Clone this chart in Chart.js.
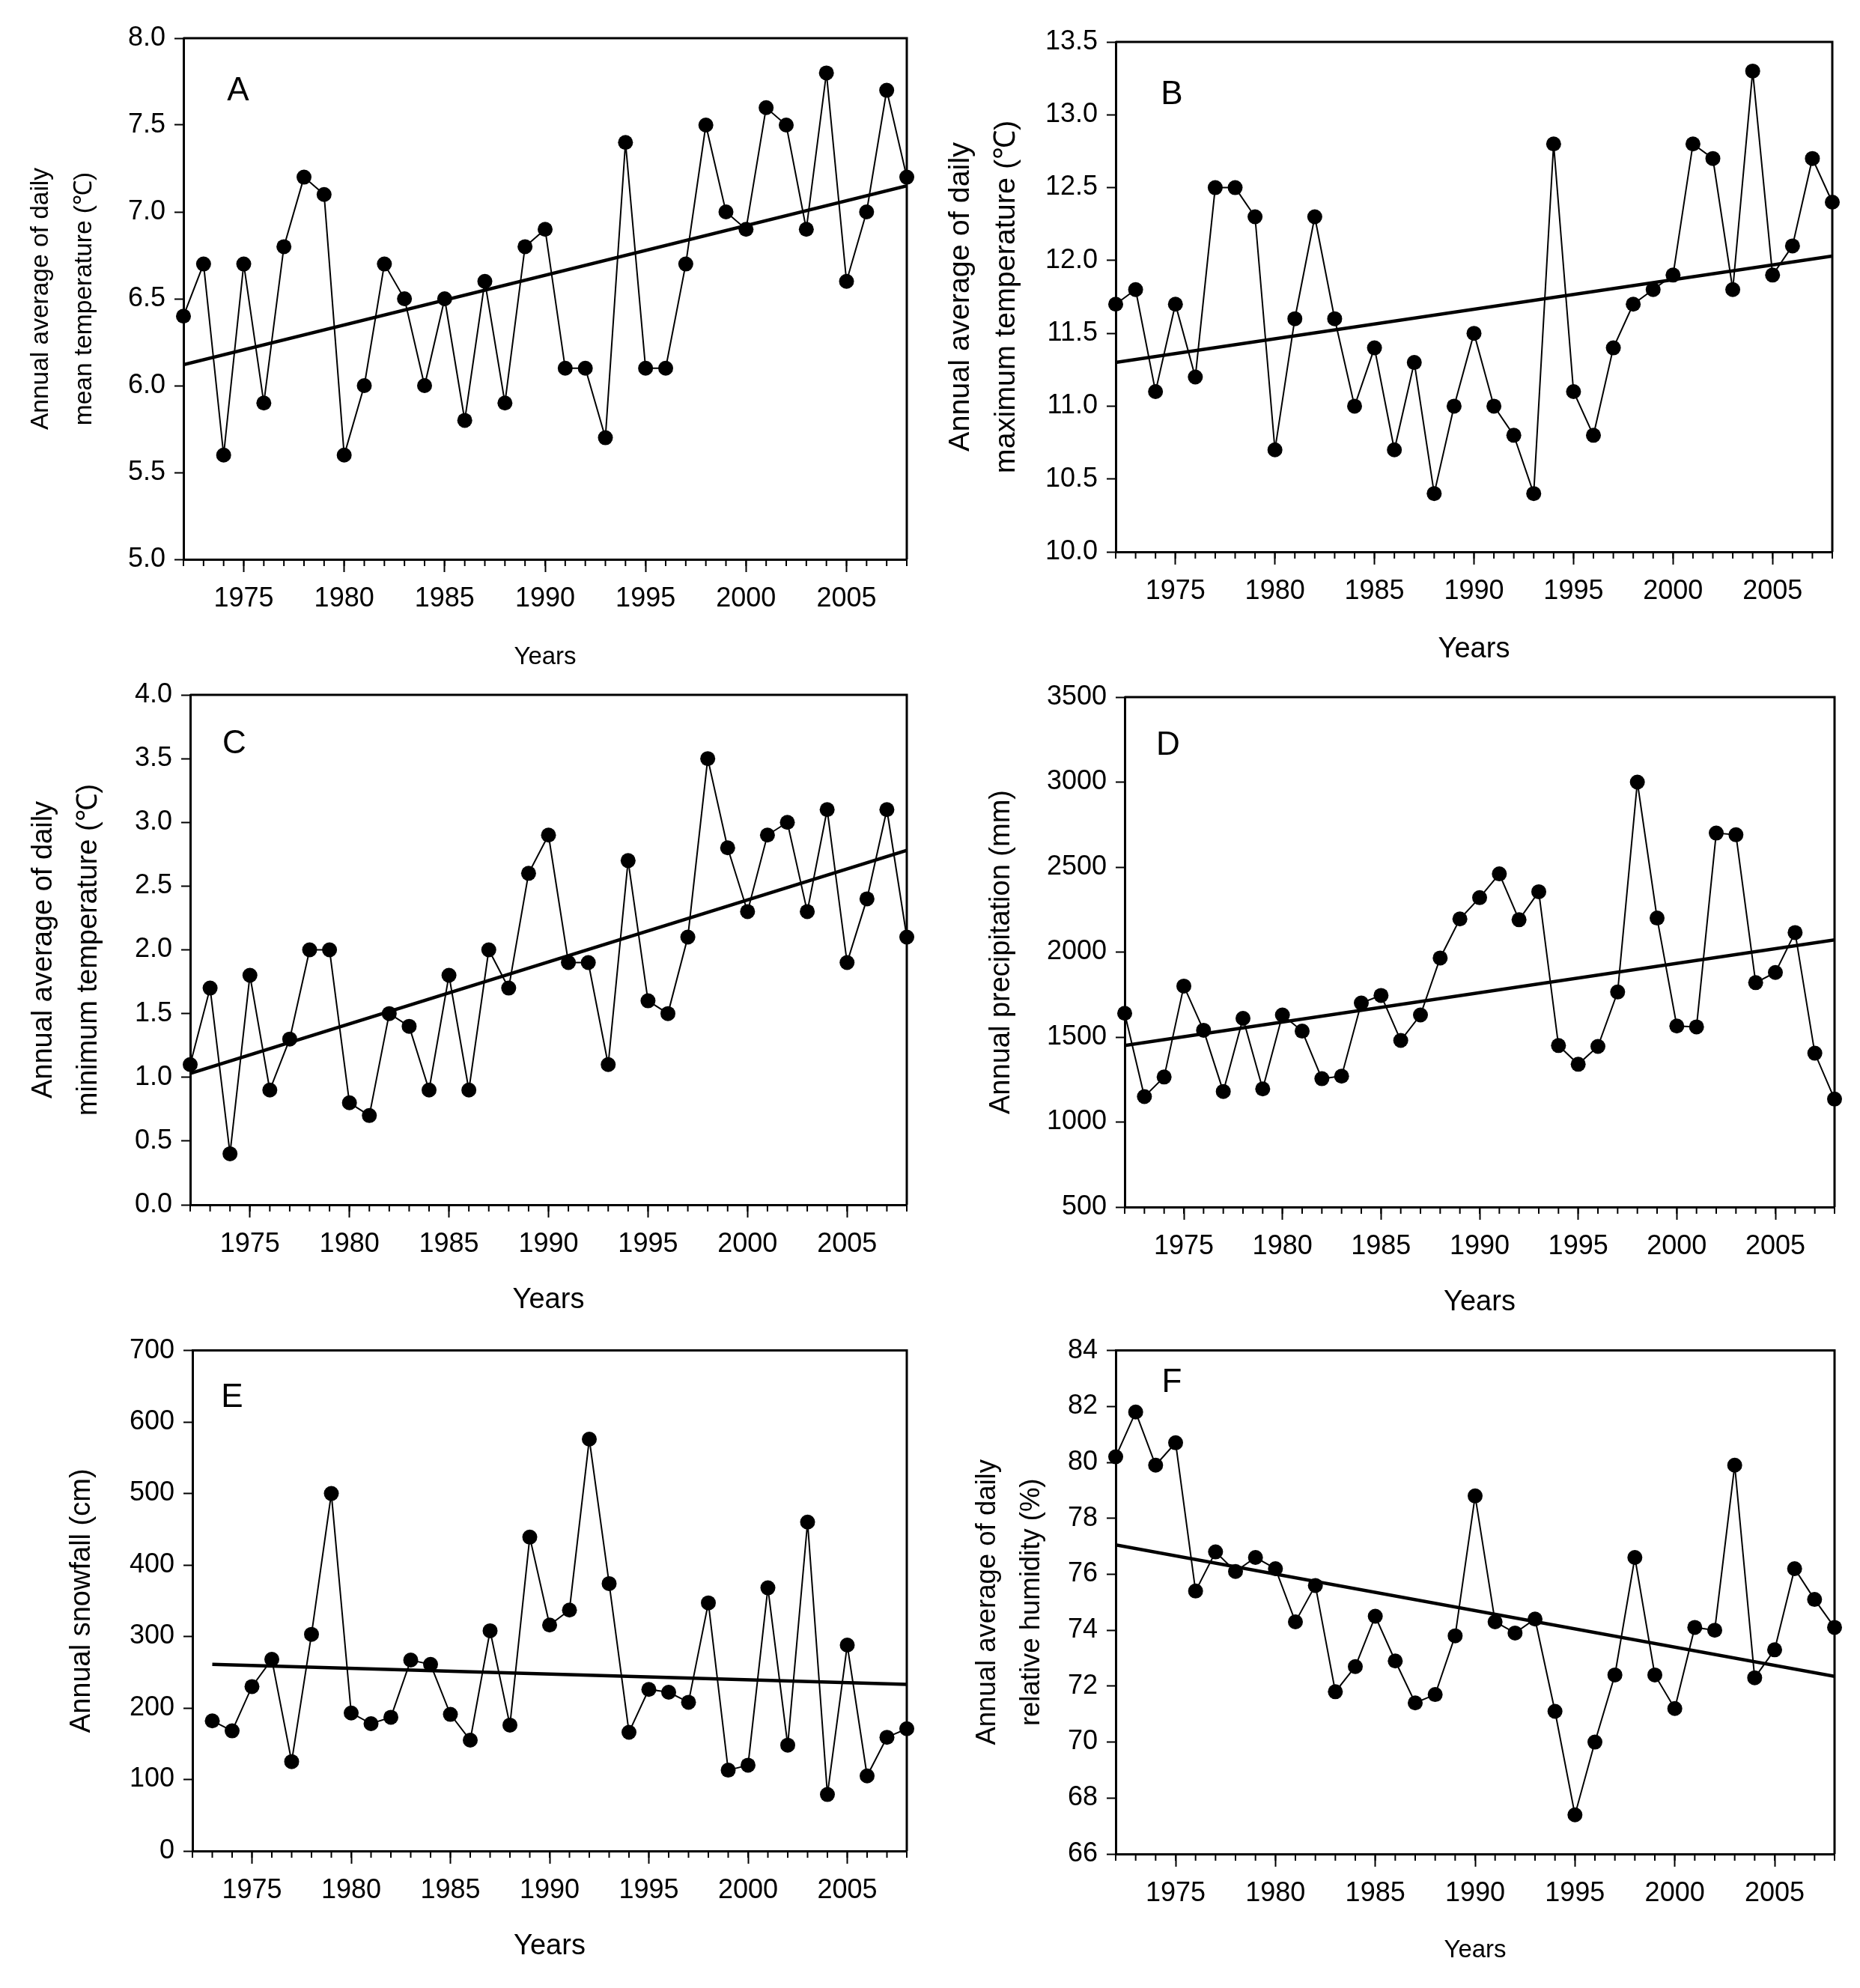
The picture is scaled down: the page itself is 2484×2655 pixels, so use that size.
<!DOCTYPE html>
<html>
<head>
<meta charset="utf-8">
<script src="https://cdn.jsdelivr.net/npm/chart.js@4.4.1/dist/chart.umd.min.js"></script>
<style>
  body { margin: 0; background: #fff; width: 2484px; height: 2655px; position: relative; overflow: hidden; }
  canvas { position: absolute; }
</style>
</head>
<body>
<canvas id="cA"></canvas>
<canvas id="cB"></canvas>
<canvas id="cC"></canvas>
<canvas id="cD"></canvas>
<canvas id="cE"></canvas>
<canvas id="cF"></canvas>
<script>
// anos 1972-2008
const anos = [1972, 1973, 1974, 1975, 1976, 1977, 1978, 1979, 1980, 1981, 1982, 1983, 1984,
  1985, 1986, 1987, 1988, 1989, 1990, 1991, 1992, 1993, 1994, 1995, 1996, 1997, 1998,
  1999, 2000, 2001, 2002, 2003, 2004, 2005, 2006, 2007, 2008];
const anosNeve = [1973, 1974, 1975, 1976, 1977, 1978, 1979, 1980, 1981, 1982, 1983, 1984,
  1985, 1986, 1987, 1988, 1989, 1990, 1991, 1992, 1993, 1994, 1995, 1996, 1997, 1998,
  1999, 2000, 2001, 2002, 2003, 2004, 2005, 2006, 2007, 2008];

const tempMedia = [6.4, 6.7, 5.6, 6.7, 5.9, 6.8, 7.2, 7.1, 5.6, 6.0, 6.7, 6.5, 6.0,
  6.5, 5.8, 6.6, 5.9, 6.8, 6.9, 6.1, 6.1, 5.7, 7.4, 6.1, 6.1, 6.7, 7.5,
  7.0, 6.9, 7.6, 7.5, 6.9, 7.8, 6.6, 7.0, 7.7, 7.2];
const tempMax = [11.7, 11.8, 11.1, 11.7, 11.2, 12.5, 12.5, 12.3, 10.7, 11.6, 12.3, 11.6, 11.0,
  11.4, 10.7, 11.3, 10.4, 11.0, 11.5, 11.0, 10.8, 10.4, 12.8, 11.1, 10.8, 11.4, 11.7,
  11.8, 11.9, 12.8, 12.7, 11.8, 13.3, 11.9, 12.1, 12.7, 12.4];
const tempMin = [1.1, 1.7, 0.4, 1.8, 0.9, 1.3, 2.0, 2.0, 0.8, 0.7, 1.5, 1.4, 0.9,
  1.8, 0.9, 2.0, 1.7, 2.6, 2.9, 1.9, 1.9, 1.1, 2.7, 1.6, 1.5, 2.1, 3.5,
  2.8, 2.3, 2.9, 3.0, 2.3, 3.1, 1.9, 2.4, 3.1, 2.1];
const precipitacao = [1640, 1150, 1265, 1800, 1540, 1180, 1610, 1195, 1630, 1535, 1255, 1270, 1700,
  1745, 1480, 1630, 1965, 2195, 2320, 2460, 2190, 2355, 1450, 1340, 1445, 1765, 3000,
  2200, 1565, 1560, 2700, 2690, 1820, 1880, 2115, 1405, 1135];
const neve = [182, 168, 230, 268, 125, 303, 500, 193, 178, 187, 267, 261,
  191, 155, 308, 176, 439, 316, 337, 576, 374, 166, 226, 222, 208, 347,
  113, 120, 368, 148, 460, 79, 288, 105, 159, 171];
const umidade = [80.2, 81.8, 79.9, 80.7, 75.4, 76.8, 76.1, 76.6, 76.2, 74.3, 75.6, 71.8, 72.7,
  74.5, 72.9, 71.4, 71.7, 73.8, 78.8, 74.3, 73.9, 74.4, 71.1, 67.4, 70.0, 72.4, 76.6,
  72.4, 71.2, 74.1, 74.0, 79.9, 72.3, 73.3, 76.2, 75.1, 74.1];

// linhas de tendência (início e fim)
const tendAnos = [1972, 2008];
const tendAnosNeve = [1973, 2008];
const tendMedia = [6.12, 7.15];
const tendMax = [11.30, 12.03];
const tendMin = [1.03, 2.78];
const tendPrecip = [1450, 2072];
const tendNeve = [261, 233];
const tendUmidade = [77.05, 72.35];

const SANS = "'Liberation Sans', Arial, sans-serif";

const molduraPlugin = {
  id: "moldura",
  beforeDatasetsDraw(chart, args, opts) {
    const { ctx, chartArea: a, scales: { x } } = chart;
    ctx.save();
    ctx.strokeStyle = "#000";
    ctx.lineWidth = 3;
    ctx.beginPath();
    ctx.moveTo(a.left, a.top);
    ctx.lineTo(a.right, a.top);
    ctx.lineTo(a.right, a.bottom);
    ctx.stroke();
    // ticks menores a cada ano
    ctx.lineWidth = 2;
    for (let ano = x.min; ano <= x.max; ano++) {
      const px = x.getPixelForValue(ano);
      ctx.beginPath();
      ctx.moveTo(px, a.bottom);
      ctx.lineTo(px, a.bottom + 9);
      ctx.stroke();
    }
    ctx.fillStyle = "#000";
    ctx.font = opts.fonte;
    ctx.textAlign = "center";
    ctx.textBaseline = "middle";
    ctx.fillText(opts.letra, a.left + opts.dx, a.top + opts.dy);
    ctx.restore();
  },
};

function criarPainel(p) {
  const canvas = document.getElementById(p.id);
  canvas.width = p.cw;
  canvas.height = p.ch;
  canvas.style.left = p.cx + "px";
  canvas.style.top = p.cy + "px";

  const pontos = p.anos.map((a, i) => ({ x: a, y: p.valores[i] }));
  const tendencia = p.tendAnos.map((a, i) => ({ x: a, y: p.tendValores[i] }));

  return new Chart(canvas, {
    type: "line",
    data: {
      datasets: [
        {
          data: tendencia,
          borderColor: "#000",
          borderWidth: 4.5,
          pointRadius: 0,
          tension: 0,
        },
        {
          data: pontos,
          borderColor: "#000",
          borderWidth: 2,
          pointRadius: 10,
          pointBackgroundColor: "#000",
          pointBorderWidth: 0,
          tension: 0,
          clip: false,
        },
      ],
    },
    options: {
      responsive: false,
      animation: false,
      layout: {
        padding: {
          left: 0,
          bottom: 0,
          top: p.frame.t - p.cy,
          right: p.cx + p.cw - p.frame.r,
        },
      },
      plugins: {
        legend: { display: false },
        tooltip: { enabled: false },
        moldura: { letra: p.letra, dx: p.letraPos[0], dy: p.letraPos[1], fonte: "44px " + SANS },
      },
      scales: {
        x: {
          type: "linear",
          min: 1972,
          max: 2008,
          afterFit: (s) => { s.height = p.cy + p.ch - p.frame.b; },
          border: { color: "#000", width: 3 },
          grid: { drawOnChartArea: false, tickLength: 17, tickWidth: 2, tickColor: "#000" },
          ticks: {
            stepSize: 5,
            includeBounds: false,
            autoSkip: false,
            maxRotation: 0,
            padding: 14,
            color: "#000",
            font: { family: SANS, size: 36 },
            callback: (v) => String(v),
          },
          title: {
            display: true,
            text: "Years",
            color: "#000",
            font: { family: SANS, size: p.tamTituloX, lineHeight: 1.2 },
            padding: { top: 0, bottom: 10 },
          },
        },
        y: {
          min: p.yMin,
          max: p.yMax,
          afterFit: (s) => { s.width = p.frame.l - p.cx; },
          border: { color: "#000", width: 3 },
          grid: { drawOnChartArea: false, tickLength: 12, tickWidth: 2, tickColor: "#000" },
          ticks: {
            stepSize: p.yPasso,
            padding: 12,
            color: "#000",
            font: { family: SANS, size: 36 },
            callback: (v) => v.toFixed(p.casas),
          },
          title: {
            display: true,
            text: p.tituloY,
            color: "#000",
            font: { family: SANS, size: p.tamTituloY, lineHeight: p.alturaLinhaY },
            padding: { top: p.padTituloY, bottom: 0 },
          },
        },
      },
    },
    plugins: [molduraPlugin],
  });
}

criarPainel({
  id: "cA", cx: 0, cy: 0, cw: 1242, ch: 908,
  frame: { l: 245, t: 51, r: 1211, b: 747 },
  anos: anos, valores: tempMedia, tendAnos: tendAnos, tendValores: tendMedia,
  yMin: 5, yMax: 8, yPasso: 0.5, casas: 1,
  tituloY: ["Annual average of daily", "mean temperature (\u2103)"],
  tamTituloY: 33.5, alturaLinhaY: 1.75, padTituloY: 25,
  tamTituloX: 33,
  letra: "A", letraPos: [73, 71],
});

criarPainel({
  id: "cB", cx: 1242, cy: 0, cw: 1242, ch: 900,
  frame: { l: 1490, t: 56, r: 2447, b: 737 },
  anos: anos, valores: tempMax, tendAnos: tendAnos, tendValores: tendMax,
  yMin: 10, yMax: 13.5, yPasso: 0.5, casas: 1,
  tituloY: ["Annual average of daily", "maximum temperature (\u2103)"],
  tamTituloY: 39.5, alturaLinhaY: 1.55, padTituloY: 10,
  tamTituloX: 38,
  letra: "B", letraPos: [75, 71],
});

criarPainel({
  id: "cC", cx: 0, cy: 885, cw: 1242, ch: 884,
  frame: { l: 254, t: 928, r: 1211, b: 1609 },
  anos: anos, valores: tempMin, tendAnos: tendAnos, tendValores: tendMin,
  yMin: 0, yMax: 4, yPasso: 0.5, casas: 1,
  tituloY: ["Annual average of daily", "minimum temperature (\u2103)"],
  tamTituloY: 38, alturaLinhaY: 1.58, padTituloY: 28,
  tamTituloX: 38,
  letra: "C", letraPos: [59, 66],
});

criarPainel({
  id: "cD", cx: 1242, cy: 885, cw: 1242, ch: 887,
  frame: { l: 1502, t: 931, r: 2450, b: 1612 },
  anos: anos, valores: precipitacao, tendAnos: tendAnos, tendValores: tendPrecip,
  yMin: 500, yMax: 3500, yPasso: 500, casas: 0,
  tituloY: "Annual precipitation (mm)",
  tamTituloY: 38, alturaLinhaY: 1.2, padTituloY: 73,
  tamTituloX: 38,
  letra: "D", letraPos: [58, 65],
});

criarPainel({
  id: "cE", cx: 0, cy: 1770, cw: 1242, ch: 862,
  frame: { l: 257, t: 1800, r: 1211, b: 2472 },
  anos: anosNeve, valores: neve, tendAnos: tendAnosNeve, tendValores: tendNeve,
  yMin: 0, yMax: 700, yPasso: 100, casas: 0,
  tituloY: "Annual snowfall (cm)",
  tamTituloY: 38, alturaLinhaY: 1.2, padTituloY: 87,
  tamTituloX: 38,
  letra: "E", letraPos: [53, 63],
});

criarPainel({
  id: "cF", cx: 1242, cy: 1770, cw: 1242, ch: 865,
  frame: { l: 1490, t: 1803, r: 2450, b: 2476 },
  anos: anos, valores: umidade, tendAnos: tendAnos, tendValores: tendUmidade,
  yMin: 66, yMax: 84, yPasso: 2, casas: 0,
  tituloY: ["Annual average of daily", "relative humidity (%)"],
  tamTituloY: 36.5, alturaLinhaY: 1.62, padTituloY: 47,
  tamTituloX: 33,
  letra: "F", letraPos: [75, 43],
});
</script>
</body>
</html>
